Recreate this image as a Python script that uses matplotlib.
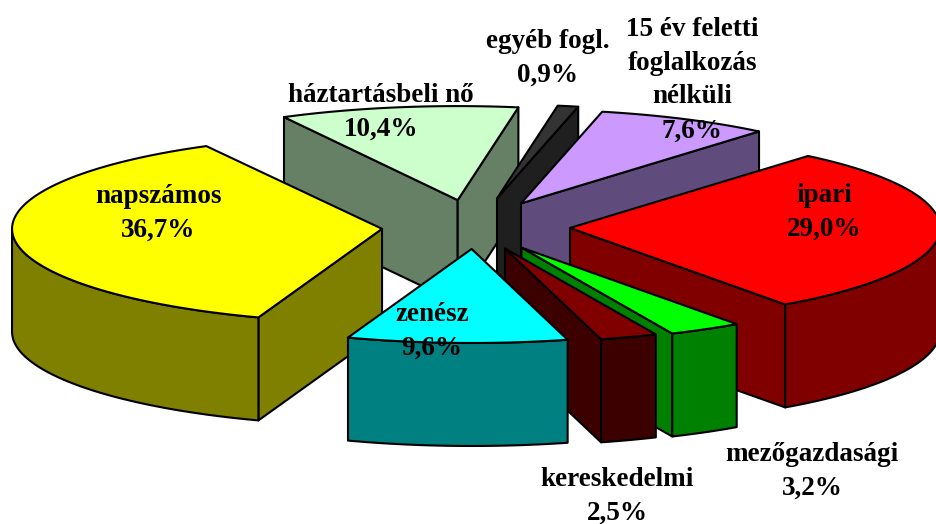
import numpy as np
import matplotlib
matplotlib.use("Agg")
import matplotlib.pyplot as plt
from matplotlib.patches import Polygon

# --- data (clockwise from the back-left edge of the pie) ---
categories = ["háztartásbeli nő", "egyéb fogl.", "15 év feletti\nfoglalkozás\nnélküli", "ipari",
              "mezőgazdasági", "kereskedelmi", "zenész", "napszámos"]
values = [10.4, 0.9, 7.6, 29.0, 3.2, 2.5, 9.6, 36.7]

# --- style ---
top_colors = ["#CCFFCC", "#333333", "#CC99FF", "#FF0000", "#00FF00", "#800000", "#00FFFF", "#FFFF00"]
side_colors = ["#668066", "#1F1F1F", "#604C7C", "#800000", "#008000", "#3D0000", "#008080", "#808000"]
explode = [0.29, 0.31, 0.28, 0.257, 0.253, 0.243, 0.234, 0.252]
draw_order = [0, 1, 2, 3, 7, 4, 5, 6]
label_xy = [(381, 112), (548, 58), (692, 80), (824, 212),
            (812, 471), (617, 496), (432, 331), (158, 213)]
START_ANGLE = 118.0
CX, CY, RX, RY, DEPTH = 475.0, 227.0, 370.0, 94.0, 103.0

fig = plt.figure(figsize=(9.36, 5.24), dpi=100, facecolor="white")
ax = fig.add_axes([0, 0, 1, 1])
ax.set_xlim(0, 936)
ax.set_ylim(524, 0)
ax.axis("off")


def rim(theta):
    t = np.radians(theta)
    return np.column_stack([RX * np.cos(t), -RY * np.sin(t)])


def face(pts, color, z):
    ax.add_patch(Polygon(pts, closed=True, facecolor=color, edgecolor="black",
                         linewidth=1.5, joinstyle="round", zorder=z))


ends = START_ANGLE - np.cumsum(values) * 3.6
starts = np.concatenate([[START_ANGLE], ends[:-1]])
down = np.array([0, DEPTH])

for z, i in enumerate(draw_order):
    a0, a1 = starts[i], ends[i]
    mid = (a0 + a1) / 2
    tip = np.array([CX, CY]) + explode[i] * rim(np.array([mid]))[0]
    arc_t = np.linspace(a0, a1, 80)
    arc = tip + rim(arc_t)
    base = z * 10
    # cut faces: only those turned towards the viewer (clockwise outline, y downwards)
    for p, q in ((tip, arc[0]), (arc[-1], tip)):
        if (q - p)[0] < 0:
            face([p, q, q + down, p + down], side_colors[i], base)
    # outer wall: the front half of the rim only
    front = np.sin(np.radians(arc_t)) < 0
    if front.any():
        w = arc[front]
        face(np.vstack([w, (w + down)[::-1]]), side_colors[i], base + 1)
    face(np.vstack([tip, arc]), top_colors[i], base + 2)

for name, val, (x, y) in zip(categories, values, label_xy):
    pct = f"{val:.1f}%".replace(".", ",")
    ax.text(x, y, f"{name}\n{pct}", ha="center", va="center", multialignment="center",
            family=["Liberation Serif"], fontweight="bold", fontsize=19.5,
            color="black", linespacing=1.47, zorder=500)

fig.savefig("out.png", dpi=100, facecolor="white")
